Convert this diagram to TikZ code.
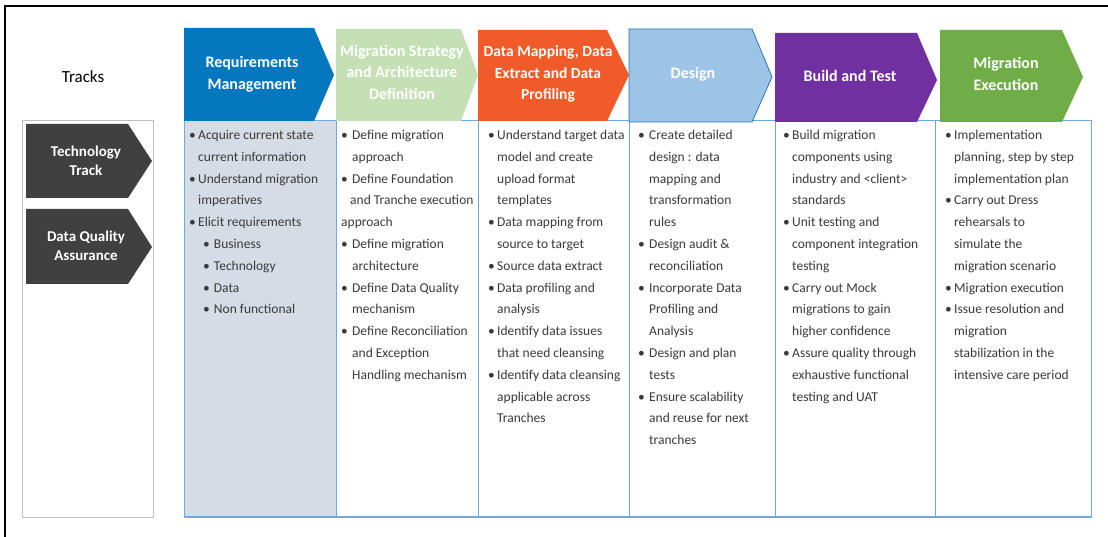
\documentclass[tikz,border=0pt]{standalone}
\usepackage{fontspec}
\setmainfont{Carlito}
\definecolor{reqc}{HTML}{0577BF}
\definecolor{msc}{HTML}{C5E0B4}
\definecolor{dmc}{HTML}{F15B2A}
\definecolor{dsc}{HTML}{9DC3E6}
\definecolor{dsb}{HTML}{2E75B6}
\definecolor{btc}{HTML}{7030A0}
\definecolor{mec}{HTML}{70AD47}
\definecolor{cfill}{HTML}{D6DCE5}
\definecolor{colb}{HTML}{6FA8DC}
\definecolor{trkc}{HTML}{404040}
\definecolor{trkb}{HTML}{BFBFBF}
\definecolor{txt}{HTML}{3A3A3A}
\newlength\bw
\newcommand\myitem[1]{\makebox[\bw][l]{\textbullet}&#1\\}
\newcommand\mycont[1]{&#1\\}
\newcommand\mysub[1]{&\hspace{5pt}\textbullet\hspace{4pt}#1\\}
\begin{document}
\begin{tikzpicture}[x=1pt,y=-1pt,
  hdr/.style={text=white,font=\fontsize{16}{21.5}\selectfont\bfseries,align=center,inner sep=0pt},
  body/.style={anchor=north west,inner sep=0pt,text=txt,font=\fontsize{13.5}{21.8}\selectfont},
  colbox/.style={draw=colb,line width=1pt},
  trktxt/.style={text=white,font=\fontsize{15}{19.5}\selectfont\bfseries,align=center,inner sep=0pt}]
\useasboundingbox (0,0) rectangle (1108,537);
\fill[white] (0,0) rectangle (1108,537);
\draw[line width=2pt] (5,537) -- (5,6) -- (1108,6);

% Tracks
\node[font=\fontsize{17}{19}\selectfont,inner sep=0pt] (tracks) at (83,77) {Tracks};
\draw[trkb,line width=0.8pt] (22,120) rectangle (153,517);
\fill[trkc] (26,124) -- (128,124) -- (152,161) -- (128,198) -- (26,198) -- cycle;
\fill[trkc] (26,209) -- (128,209) -- (152,247) -- (128,284) -- (26,284) -- cycle;
\node[trktxt] (tt) at (86,161) {Technology\\Track};
\node[trktxt] (dqa) at (86,246) {Data Quality\\Assurance};

% Columns
\fill[cfill] (184,121) rectangle (336,517);
\foreach \a/\b in {184/336,336/478,478/629,629/775,775/935,935/1091}
  \draw[colbox] (\a,121) rectangle (\b,517);
\draw[colb,line width=2pt] (184,517) -- (1091,517);

% Headers
\fill[reqc] (184,28) -- (314,28) -- (334,75) -- (314,121) -- (184,121) -- cycle;
\fill[msc] (336,29) -- (461,29) -- (478,75) -- (461,121) -- (336,121) -- cycle;
\fill[dmc] (478,30) -- (607,30) -- (629,75) -- (607,121) -- (478,121) -- cycle;
\filldraw[fill=dsc,draw=dsb,line width=0.8pt] (629,29) -- (752,29) -- (772,77) -- (752,122) -- (629,122) -- cycle;
\fill[btc] (775,33) -- (917,33) -- (937,80) -- (917,122) -- (775,122) -- cycle;
\fill[mec] (940,30) -- (1062,30) -- (1083,77) -- (1062,122) -- (940,122) -- cycle;

\node[hdr] (h1) at (252,74) {Requirements\\Management};
\node[hdr] (h2) at (402,72) {Migration Strategy\\and Architecture\\Definition};
\node[hdr,font=\fontsize{15.5}{21.5}\selectfont\bfseries] (h3) at (548,74) {Data Mapping, Data\\Extract and Data\\Profiling};
\node[hdr] (h4) at (693,74) {Design};
\node[hdr] (h5) at (850,76) {Build and Test};
\node[hdr] (h6) at (1006,74) {Migration\\Execution};

% Column texts
\setlength\bw{9pt}
\node[body] (t1) at (189,124) {\begin{tabular}{@{}l@{}l@{}}
\myitem{Acquire current state}
\mycont{current information}
\myitem{Understand migration}
\mycont{imperatives}
\myitem{Elicit requirements}
\mysub{Business}
\mysub{Technology}
\mysub{Data}
\mysub{Non functional}
\end{tabular}};

\begin{scope}
\clip (336,121) rectangle (475,517);
\node[body] (t2) at (341,124) {\setlength\bw{11pt}\begin{tabular}{@{}l@{}l@{}}
\myitem{Define migration}
\mycont{approach}
\myitem{Define Foundation}
\mycont{\hspace{-2pt}and Tranche execution}
\multicolumn{2}{@{}l@{}}{approach}\\
\myitem{Define migration}
\mycont{architecture}
\myitem{Define Data Quality}
\mycont{mechanism}
\myitem{Define Reconciliation}
\mycont{and Exception}
\mycont{Handling mechanism}
\end{tabular}};
\end{scope}

\begin{scope}
\clip (478,121) rectangle (631,517);
\node[body] (t3) at (488,124) {\begin{tabular}{@{}l@{}l@{}}
\myitem{Understand target data}
\mycont{model and create}
\mycont{upload format}
\mycont{templates}
\myitem{Data mapping from}
\mycont{source to target}
\myitem{Source data extract}
\myitem{Data profiling and}
\mycont{analysis}
\myitem{Identify data issues}
\mycont{that need cleansing}
\myitem{Identify data cleansing}
\mycont{applicable across}
\mycont{Tranches}
\end{tabular}};
\end{scope}

\node[body] (t4) at (638,124) {\setlength\bw{11pt}\begin{tabular}{@{}l@{}l@{}}
\myitem{Create detailed}
\mycont{design : data}
\mycont{mapping and}
\mycont{transformation}
\mycont{rules}
\myitem{Design audit \&}
\mycont{reconciliation}
\myitem{Incorporate Data}
\mycont{Profiling and}
\mycont{Analysis}
\myitem{Design and plan}
\mycont{tests}
\myitem{Ensure scalability}
\mycont{and reuse for next}
\mycont{tranches}
\end{tabular}};

\node[body] (t5) at (783,124) {\begin{tabular}{@{}l@{}l@{}}
\myitem{Build migration}
\mycont{components using}
\mycont{industry and <client>}
\mycont{standards}
\myitem{Unit testing and}
\mycont{component integration}
\mycont{testing}
\myitem{Carry out Mock}
\mycont{migrations to gain}
\mycont{higher confidence}
\myitem{Assure quality through}
\mycont{exhaustive functional}
\mycont{testing and UAT}
\end{tabular}};

\node[body] (t6) at (945,124) {\begin{tabular}{@{}l@{}l@{}}
\myitem{Implementation}
\mycont{planning, step by step}
\mycont{implementation plan}
\myitem{Carry out Dress}
\mycont{rehearsals to}
\mycont{simulate the}
\mycont{migration scenario}
\myitem{Migration execution}
\myitem{Issue resolution and}
\mycont{migration}
\mycont{stabilization in the}
\mycont{intensive care period}
\end{tabular}};
\end{tikzpicture}
\end{document}
